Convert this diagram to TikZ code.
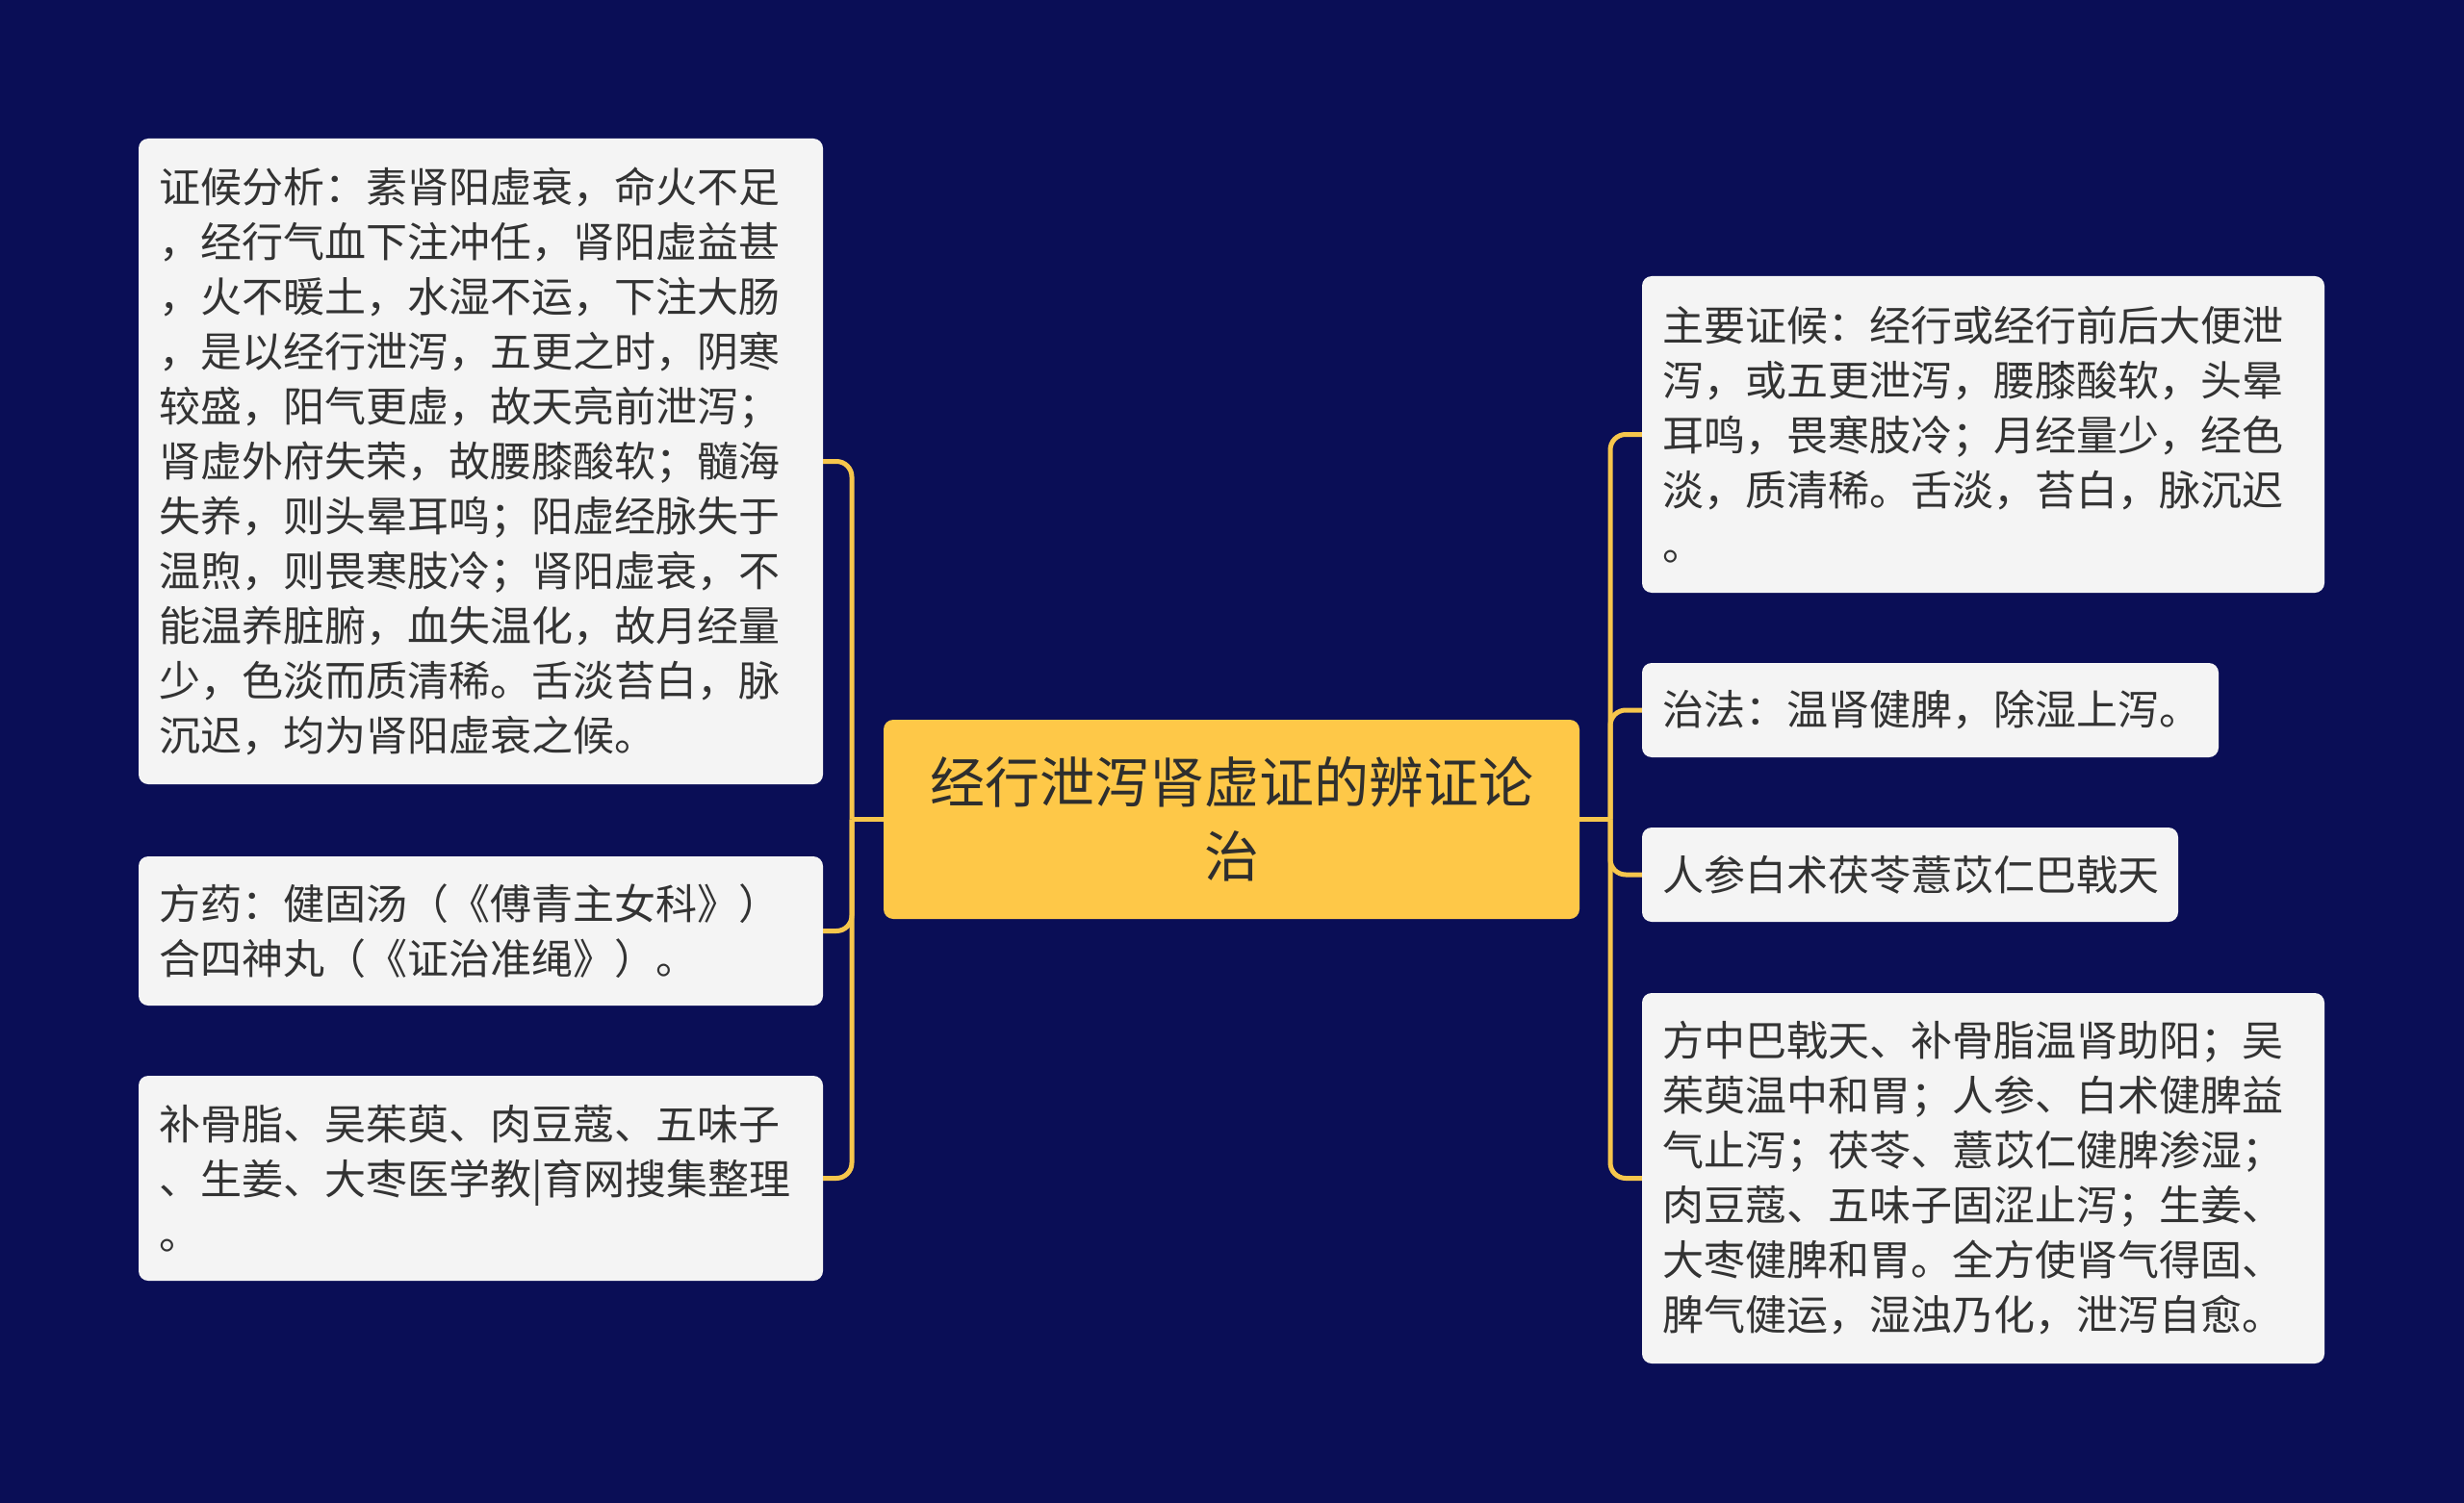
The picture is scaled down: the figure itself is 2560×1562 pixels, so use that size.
\documentclass[tikz,border=0pt]{standalone}
\usepackage{fontspec}
\setmainfont{Noto Sans CJK SC}
\definecolor{navy}{RGB}{10,14,86}
\definecolor{gold}{RGB}{254,200,72}
\definecolor{linkgold}{RGB}{246,198,76}
\definecolor{paper}{RGB}{244,244,244}
\definecolor{ink}{RGB}{51,51,51}
\begin{document}
\begin{tikzpicture}[x=1pt, y=-1pt,
    leaf/.style={fill=paper, rounded corners=10pt, inner xsep=21pt, align=left,
        text=ink, font=\fontsize{43}{57}\selectfont},
    link/.style={draw=linkgold, line width=5pt, rounded corners=16pt}]
        \fill[navy] (0,0) rectangle (2560,1562);

        \node[fill=gold, rounded corners=10pt, minimum width=723pt, minimum height=207pt,
            align=center, text=ink!90!black, font=\fontsize{57}{77}\selectfont]
            (root) at (1279.5,851.5) {经行泄泻肾虚证的辨证论\\治};

        % left side
        \node[leaf, text width=669pt, minimum height=671pt] (zhenghou) at (499.5,479.5)
            {证候分析：素肾阳虚衰，命火不足\\，经行气血下注冲任，肾阳虚益甚\\，火不暖土，水湿不运，下注大肠\\，是以经行泄泻，五更之时，阴寒\\较盛，阳气更虚，故天亮前泄泻；\\肾虚外府失荣，故腰膝酸软；髓海\\失养，则头晕耳鸣；阳虚经脉失于\\温煦，则畏寒肢冷；肾阳虚衰，不\\能温养脏腑，血失温化，故月经量\\少，色淡而质清稀。舌淡苔白，脉\\沉迟，均为肾阳虚衰之候。};
        \node[leaf, text width=669pt, minimum height=155pt] (fangyao) at (499.5,967.5)
            {方药：健固汤（《傅青主女科》）\\合四神丸（《证治准绳》）。};
        \node[leaf, text width=669pt, minimum height=213pt] (yaowu) at (499.5,1224.5)
            {补骨脂、吴茱萸、肉豆蔻、五味子\\、生姜、大枣医学教|育网搜集整理\\。};

        % right side
        \node[leaf, text width=667pt, minimum height=329pt] (zhuyao) at (2060.5,451.5)
            {主要证候：经行或经行前后大便泄\\泻，或五更泄泻，腰膝酸软，头晕\\耳鸣，畏寒肢冷；月经量少，经色\\淡，质清稀。舌淡，苔白，脉沉迟\\。};
        \node[leaf, text width=557pt, minimum height=98pt] (zhifa) at (2005.5,738)
            {治法：温肾健脾，除湿上泻。};
        \node[leaf, text width=515pt, minimum height=98pt] (renshen) at (1984.5,909)
            {人参白术茯苓薏苡仁巴戟天};
        \node[leaf, text width=667pt, minimum height=385pt] (fangzhong) at (2060.5,1224.5)
            {方中巴戟天、补骨脂温肾助阳；吴\\茱萸温中和胃；人参、白术健脾益\\气止泻；茯苓、薏苡仁健脾渗湿；\\肉豆蔻、五味子固涩止泻；生姜、\\大枣健脾和胃。全方使肾气得固、\\脾气健运，湿浊乃化，泄泻自愈。};

        \coordinate (lj) at (885,851.5);
        \coordinate (rj) at (1673,851.5);

        \draw[link] (root.west) -- (lj);
        \draw[link] (lj) |- (zhenghou.east);
        \draw[link] (lj) |- (fangyao.east);
        \draw[link] (lj) |- (yaowu.east);

        \draw[link] (root.east) -- (rj);
        \draw[link] (rj) |- (zhuyao.west);
        \draw[link] (rj) |- (zhifa.west);
        \draw[link] (rj) |- (renshen.west);
        \draw[link] (rj) |- (fangzhong.west);

    \end{tikzpicture}
\end{document}
